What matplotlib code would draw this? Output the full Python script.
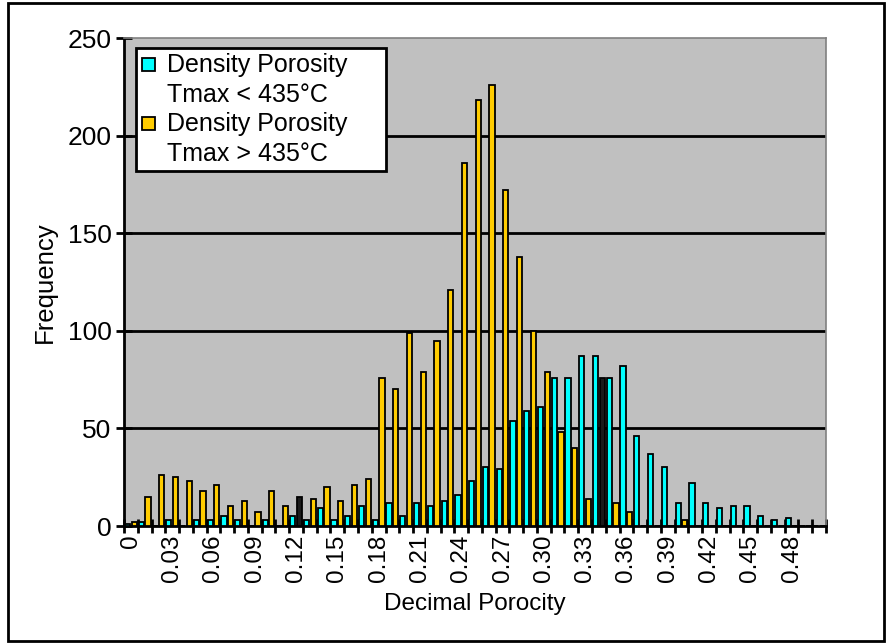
import numpy as np
import matplotlib.pyplot as plt
from matplotlib.patches import Rectangle
from matplotlib.legend_handler import HandlerPatch

plt.rcParams['font.family'] = ['Liberation Sans', 'DejaVu Sans']

# Histogram classes 0.00 ... 0.50
porosity = [round(0.01 * i, 2) for i in range(51)]

# Density Porosity, Tmax < 435 C
freq_low = [1, 2, 0, 3, 0, 3, 3, 5, 3, 0,
            3, 0, 5, 3, 9, 3, 5, 10, 3, 12,
            5, 12, 10, 13, 16, 23, 30, 29, 54, 59,
            61, 76, 76, 87, 87, 76, 82, 46, 37, 30,
            12, 22, 12, 9, 10, 10, 5, 3, 4, 0,
            0]

# Density Porosity, Tmax > 435 C
freq_high = [2, 15, 26, 25, 23, 18, 21, 10, 13, 7,
             18, 10, 15, 14, 20, 13, 21, 24, 76, 70,
             99, 79, 95, 121, 186, 218, 226, 172, 138, 100,
             79, 48, 40, 14, 76, 12, 7, 0, 0, 0,
             3, 0, 0, 0, 0, 0, 0, 0, 0, 0,
             0]

# these two gold columns come out black in the original
dark_bars = [12, 34]

label_low = "Density Porosity\nTmax < 435°C"
label_high = "Density Porosity\nTmax > 435°C"

cyan = "#00FFFF"
gold = "#FFCC00"


def top_square(legend, orig_handle, xdescent, ydescent, width, height, fontsize):
    # square marker next to the first line of a two-line label
    s = 0.5 * fontsize
    return Rectangle((-xdescent + (width - s) / 2, -ydescent + (height - s) / 2 + 0.65 * fontsize), s, s)


fig = plt.figure(figsize=(8.86, 6.44), dpi=100)
ax = fig.add_axes([124 / 886, 1 - 526 / 644, 702 / 886, 488 / 644])
ax.set_facecolor("#C0C0C0")

x = np.arange(len(porosity))
w = 0.38
ax.bar(x - 0.24, freq_low, w, color=cyan, edgecolor="black", linewidth=1.3, zorder=3)
bars = ax.bar(x + 0.24, freq_high, w, color=gold, edgecolor="black", linewidth=1.3, zorder=3)
for i in dark_bars:
    bars[i].set_facecolor("#1a1a1a")

for yv in [50, 100, 150, 200]:
    ax.axhline(yv, color="black", lw=2, zorder=1)

ax.set_xlim(-0.5, len(porosity) - 0.5)
ax.set_ylim(0, 250)
ax.set_yticks([0, 50, 100, 150, 200, 250])

ax.set_xticks(x[::3])
ax.set_xticklabels(["0" if p == 0 else f"{p:.2f}" for p in porosity[::3]], rotation=90)
ax.set_xticks(np.arange(len(porosity) + 1) - 0.5, minor=True)
ax.tick_params(axis="x", which="major", length=0, pad=6, labelsize=17.5)
ax.tick_params(axis="x", which="minor", direction="inout", length=10, width=2)
ax.tick_params(axis="y", direction="inout", length=12, width=2, pad=3, labelsize=19)

for s in ["left", "bottom"]:
    ax.spines[s].set_linewidth(2)
    ax.spines[s].set_color("black")
for s in ["top", "right"]:
    ax.spines[s].set_linewidth(1.2)
    ax.spines[s].set_color("#808080")

ax.set_ylabel("Frequency", fontsize=18.5, labelpad=8)
ax.set_xlabel("Decimal Porocity", fontsize=17.5, labelpad=8)

handles = [Rectangle((0, 0), 1, 1, facecolor=cyan, edgecolor="black", linewidth=1.3),
           Rectangle((0, 0), 1, 1, facecolor=gold, edgecolor="black", linewidth=1.3)]
leg = ax.legend(handles, [label_low, label_high], loc="upper left",
                bbox_to_anchor=(12 / 702, 0, 250 / 702, 478 / 488), mode="expand",
                borderaxespad=0, fontsize=18, frameon=True, fancybox=False,
                edgecolor="black", handlelength=0.6, handleheight=0.6,
                handletextpad=0.45, labelspacing=0.22, borderpad=0.2,
                handler_map={Rectangle: HandlerPatch(patch_func=top_square)})
for t in leg.get_texts():
    t.set_linespacing(1.3)
leg.get_frame().set_linewidth(2)
leg.get_frame().set_facecolor("white")
leg.get_frame().set_alpha(1)

fig.patches.append(Rectangle((8 / 886, 3 / 644), 876 / 886, 638 / 644,
                             transform=fig.transFigure, fill=False,
                             edgecolor="black", linewidth=2))

fig.savefig("out.png", dpi=100)
